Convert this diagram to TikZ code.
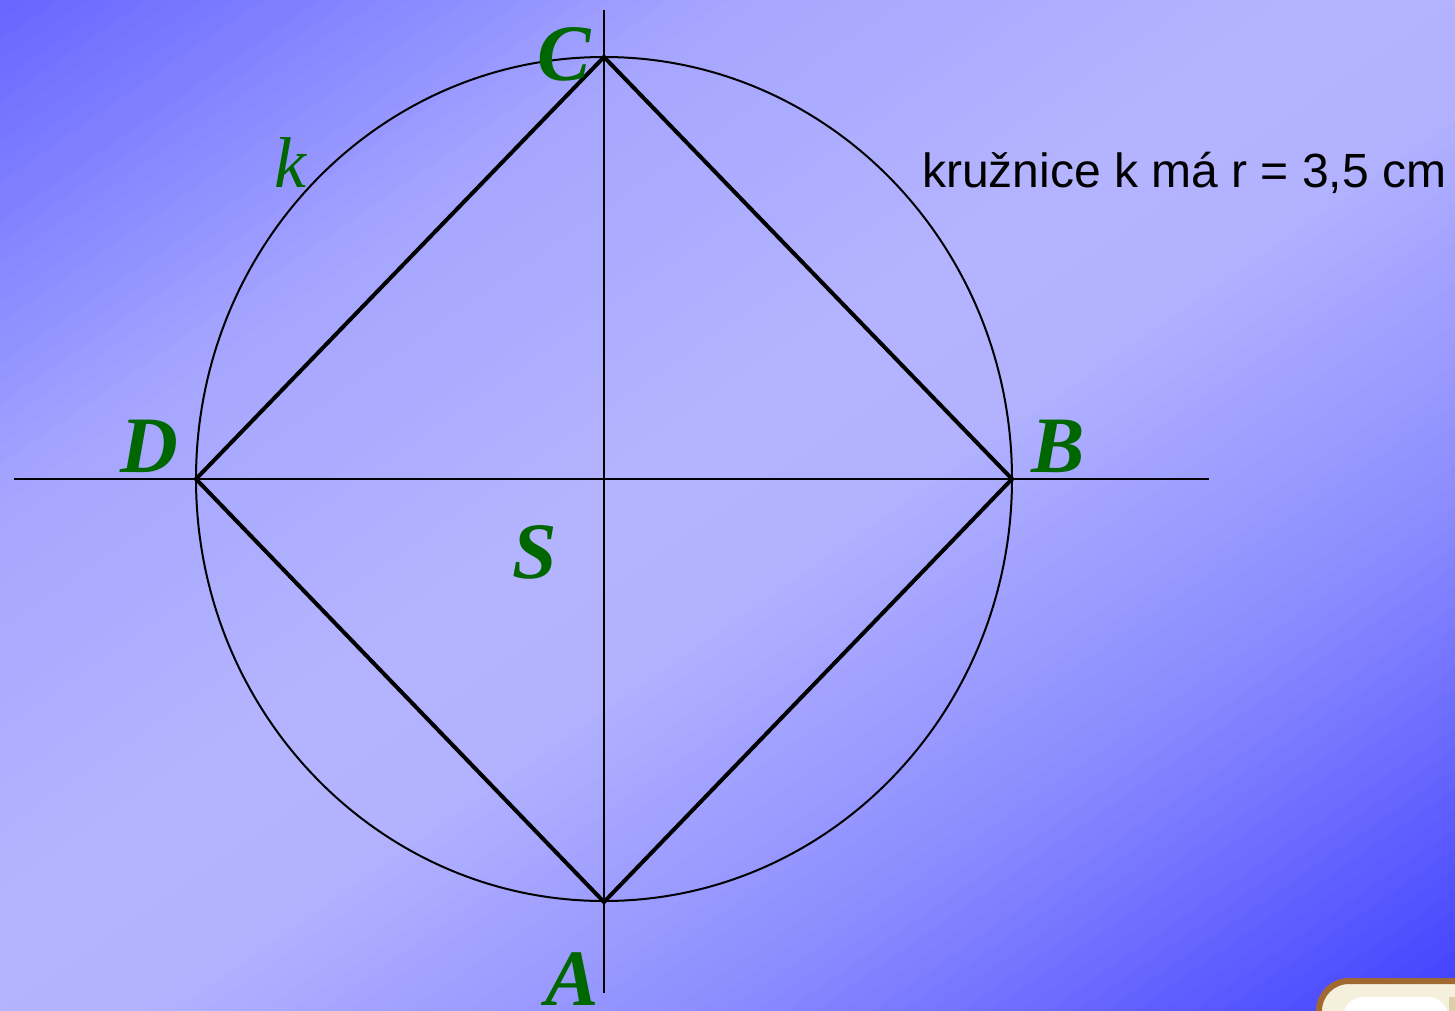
\documentclass[tikz,border=0pt]{standalone}
\usepackage{fontspec}
\setmainfont{Liberation Serif}
\newfontfamily\sansf{Liberation Sans}
\definecolor{lbl}{RGB}{0,102,0}
\definecolor{btnbrown}{RGB}{160,105,50}
\definecolor{btncream}{RGB}{245,240,220}
\definecolor{btntan}{RGB}{220,207,168}
\tikzset{
  lab/.style={text=lbl, font=\fontsize{80}{80}\selectfont\bfseries\itshape, anchor=base, inner sep=0pt},
  thin line/.style={line width=2pt},
  thick line/.style={line width=4pt, line join=miter},
}
\begin{document}
\begin{tikzpicture}[x=1pt,y=-1pt]
\useasboundingbox (0,0) rectangle (1455,1011);
% background gradient (diagonal, dark - light - dark)
\begin{scope}
\clip (0,0) rectangle (1455,1011);
\foreach \i in {0,...,99}{
  \pgfmathsetmacro\ua{\i/50}
  \pgfmathsetmacro\ub{(\i+1.3)/50}
  \pgfmathsetmacro\um{(\i+0.5)/50}
  \pgfmathtruncatemacro\vv{\um<0.5 ? 102+128*\um : (\um<0.9 ? 166+(\um-0.5)*35 : (\um<1.1 ? 180-(\um-0.9)*10 : (\um<1.5 ? 178-(\um-1.1)*95 : 140-(\um-1.5)*152)))}
  \definecolor{stripc}{RGB}{\vv,\vv,255}
  \fill[stripc] (\ua*1455,0) -- (\ub*1455,0) -- (0,\ub*1011) -- (0,\ua*1011) -- cycle;
}
\end{scope}
% points
\coordinate (S) at (604,479);
\coordinate (C) at (604,57);
\coordinate (B) at (1012,479);
\coordinate (A) at (604,902);
\coordinate (D) at (196,479);
\coordinate (h1) at (14,479);
\coordinate (h2) at (1209,479);
\coordinate (v1) at (604,10);
\coordinate (v2) at (604,993);
% circle k
\draw[thin line] (S) ellipse [x radius=408, y radius=422];
% axes
\draw[thin line] (h1) -- (h2);
\draw[thin line] (v1) -- (v2);
% square
\draw[thick line] (A) -- (B) -- (C) -- (D) -- cycle;
% labels
\node[lab] (lC) at (564,81) {C};
\node[lab] (lD) at (149,472) {D};
\node[lab] (lB) at (1058,472) {B};
\node[lab] (lS) at (535,578) {S};
\node[lab] (lA) at (572,1005) {A};
\node[text=lbl, font=\fontsize{72}{72}\selectfont\itshape, anchor=base, inner sep=0pt] (lk) at (290,187) {k};
\node[anchor=base west, inner sep=0pt, font=\sansf\fontsize{48}{48}\selectfont] (txt) at (922,187) {kružnice k má r = 3,5 cm};
% button
\begin{scope}
\clip (0,0) rectangle (1455,1011);
\draw[btnbrown, line width=6pt, fill=btncream, rounded corners=30pt] (1319,981) rectangle (1520,1120);
\fill[white, rounded corners=20pt] (1343,997) rectangle (1448,1100);
\fill[btntan] (1449,997) rectangle (1460,1011);
\end{scope}
\end{tikzpicture}
\end{document}
